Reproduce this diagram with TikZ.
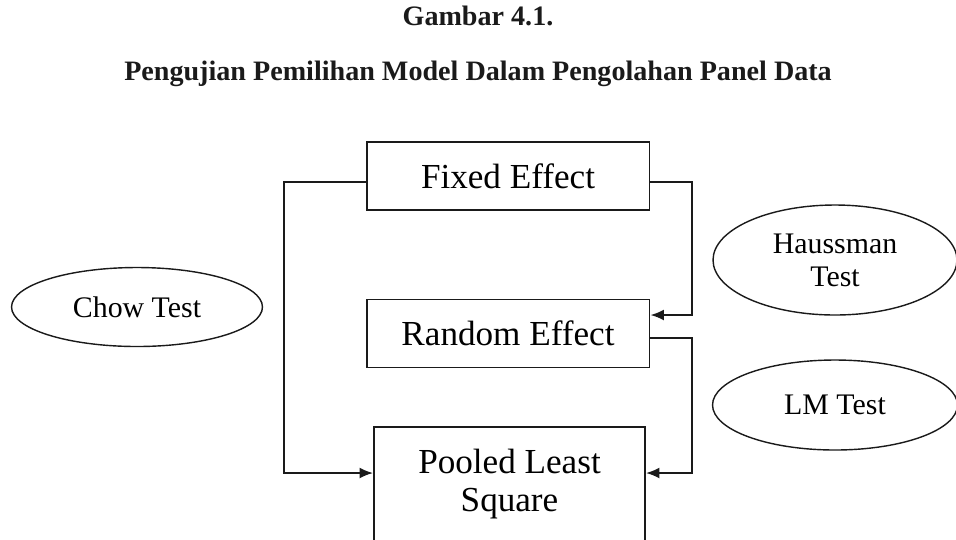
\documentclass[tikz,border=0pt]{standalone}
\usepackage{fontspec}
\setmainfont{Liberation Serif}
\usepackage{tikz}
\usetikzlibrary{calc,positioning,shapes.geometric,arrows.meta}
\definecolor{inkcol}{HTML}{1A1A1A}

\begin{document}
\begin{tikzpicture}[x=0.02cm, y=-0.02cm,
      modelbox/.style={draw=inkcol, line width=1.1pt, fill=white,
                       font=\fontsize{20}{22}\selectfont, align=center,
                       minimum width=5.66cm, minimum height=1.36cm, inner sep=0pt},
      testoval/.style={draw=inkcol, line width=0.8pt, ellipse, fill=white,
                       font=\fontsize{17}{18.7}\selectfont, align=center, inner sep=0pt},
      arr/.style={-{Latex[length=0.27cm, width=0.22cm]}, line width=1.1pt, color=inkcol},
      headz/.style={font=\fontsize{16}{18}\selectfont\bfseries, color=inkcol}]

    \useasboundingbox (0,0) rectangle (956,539);

    % titles
    \node[headz] (gbr) at (478,16) {Gambar 4.1.};
    \node[headz] (judul) at (478,74)
      {Pengujian Pemilihan Model Dalam Pengolahan Panel Data};

    % the three models
    \node[modelbox] (fixed) at (508,176) {Fixed Effect};
    \node[modelbox] (random) at (508,333.5) {Random Effect};
    \node[modelbox, minimum width=5.42cm, minimum height=2.28cm]
      (pooled) at (509.5,484) {Pooled Least\\Square};

    % the tests
    \node[testoval, minimum width=5.02cm, minimum height=1.58cm]
      (chow) at (137,307) {Chow Test};
    \node[testoval, minimum width=4.88cm, minimum height=2.2cm]
      (haussman) at (835,260) {Haussman\\Test};
    \node[testoval, minimum width=4.9cm, minimum height=1.8cm]
      (lmtest) at (835,405) {LM Test};

    % rails
    \coordinate (fl) at (284,182);
    \coordinate (pl) at (284,473);
    \coordinate (fr) at (692,182);
    \coordinate (rin) at (692,315);
    \coordinate (rout) at (692,338);
    \coordinate (pr) at (692,473);

    \draw[arr] (fl -| fixed.west) -- (fl) -- (pl) -- (pl -| pooled.west);
    \draw[arr] (fr -| fixed.east) -- (fr) -- (rin) -- (rin -| random.east);
    \draw[arr] (rout -| random.east) -- (rout) -- (pr) -- (pr -| pooled.east);
  \end{tikzpicture}
\end{document}
